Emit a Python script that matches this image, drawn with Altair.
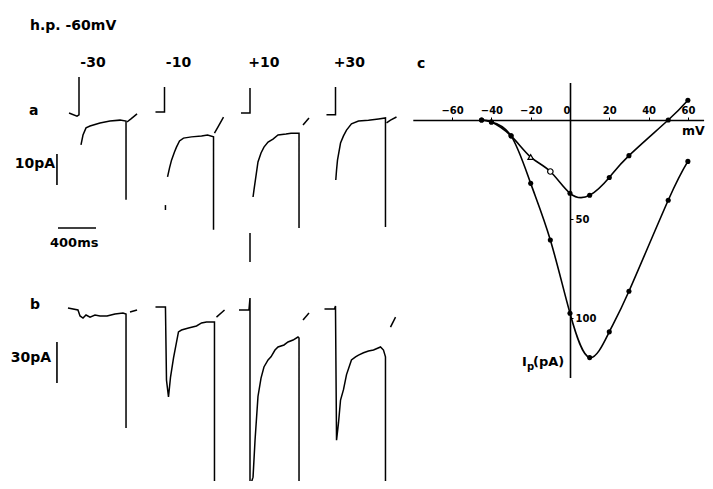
import altair as alt
import pandas as pd

# ---------------- data ----------------
SWEEP_LABELS = ["-30", "-10", "+10", "+30"]
SWEEP_GAP_MS = 900          # spacing between successive sweeps (ms)
LABEL_T_MS = 147            # sweep label time after step onset
LABEL_PA = 16.1             # sweep label level (panel a units)

# panel a traces (time ms from step onset, current pA, segment id)
a_m30_t = [-105, -21, 0, 0, 21, 42, 74, 116, 221, 326, 432, 495, 495, 505, 547, 611]
a_m30_i = [0, -1, -0.6, 11.6, -10.3, -7.1, -4.8, -4.2, -3.2, -2.6, -2.3, -2.6, -28, -2.9, -1.9, -0.3]
a_m30_s = [0, 0, 0, 0, 1, 1, 1, 1, 1, 1, 1, 1, 1, 2, 2, 2]

a_m10_t = [-95, 0, 0, 10, 10, 32, 53, 74, 105, 126, 158, 200, 284, 390, 453, 516, 516, 526, 568, 621]
a_m10_i = [0.3, 0.3, 8.4, -29.7, -31.3, -20.6, -17.7, -15.2, -12.6, -11, -9, -8.1, -7.7, -7.4, -7.1, -7.7, -37.7, -6.5, -4.2, -1.3]
a_m10_s = [0, 0, 0, 1, 1, 2, 2, 2, 2, 2, 2, 2, 2, 2, 2, 2, 2, 3, 3, 3]

a_p10_t = [-95, 0, 0, 32, 42, 84, 116, 147, 190, 242, 295, 379, 432, 516, 516, 558, 621]
a_p10_i = [0, 0, 8.1, -27.1, -24.8, -15.8, -12.9, -11, -9.4, -8.4, -7.1, -6.8, -6.5, -6.5, -37.1, -3.9, -1.6]
a_p10_s = [0, 0, 0, 1, 1, 1, 1, 1, 1, 1, 1, 1, 1, 1, 1, 2, 2]

a_p30_t = [-95, 0, 0, 3, 11, 21, 53, 84, 116, 168, 242, 347, 453, 526, 526, 537, 579, 642]
a_p30_i = [-0.6, -0.6, 8.4, -21.6, -18.4, -15.2, -9.7, -7.4, -5.5, -3.5, -2.6, -2.3, -1.9, -1.6, -36.8, -3.2, -2.3, -1.3]
a_p30_s = [0, 0, 0, 1, 1, 1, 1, 1, 1, 1, 1, 1, 1, 1, 1, 2, 2, 2]

# panel b traces
b_m30_t = [-116, -11, 11, 42, 74, 116, 168, 221, 295, 379, 463, 495, 495, 537, 611]
b_m30_i = [0.7, -0.7, -5.1, -6.6, -4.4, -5.9, -4.4, -5.1, -5.1, -3.7, -2.9, -3.7, -87, -2.2, -0.7]
b_m30_s = [0, 0, 0, 0, 0, 0, 0, 0, 0, 0, 0, 0, 0, 1, 1]

b_m10_t = [-95, 0, 10, 21, 42, 63, 95, 147, 179, 253, 337, 390, 442, 505, 526, 526, 547, 632]
b_m10_i = [1.5, 1.5, 1.5, -52, -64.4, -50, -35.8, -16.8, -15.4, -13.9, -12.4, -10.2, -9.5, -9.5, -9.5, -131, -5.9, -0.7]
b_m10_s = [0, 0, 0, 0, 0, 0, 0, 0, 0, 0, 0, 0, 0, 0, 0, 0, 1, 1]

b_p10_t = [-116, -11, 0, 0, 32, 53, 84, 116, 147, 190, 221, 263, 295, 358, 400, 453, 505, 516, 516, 0, 0, 558, 621]
b_p10_i = [-0.7, -0.7, 8, -130, -123, -96, -64, -50.5, -42.4, -37.3, -35, -30, -27.8, -26.3, -24.1, -22.7, -20.5, -21.2, -130, 34.4, 55.6, -8, -2.9]
b_p10_s = [0, 0, 0, 0, 0, 0, 0, 0, 0, 0, 0, 0, 0, 0, 0, 0, 0, 0, 0, 1, 1, 2, 2]

b_p30_t = [-116, -11, 0, 0, 11, 32, 53, 84, 116, 168, 211, 242, 295, 347, 400, 474, 505, 526, 526, 579, 632]
b_p30_i = [0, 0, 2.2, 0, -96, -83, -66.6, -59, -48, -37.3, -35, -33.7, -32, -30.7, -30, -27.8, -30, -35, -130, -13.2, -5.9]
b_p30_s = [0, 0, 0, 0, 0, 0, 0, 0, 0, 0, 0, 0, 0, 0, 0, 0, 0, 0, 0, 1, 1]

# calibration bars
BAR_T_MS = -232
A_BAR_BASE, A_BAR_PA = -23.2, 10
B_BAR_BASE, B_BAR_PA = -54.1, 30
TIME_BAR_START, TIME_BAR_MS, TIME_BAR_LEVEL = -221, 400, -37.1

# panel c: peak current-voltage relations (inward current positive, pA)
iv_v = [-45, -40, -30, -20, -10, 0, 10, 20, 30, 50, 60]
iv_small = [0, 1, 8, 18.7, 26, 37, 38, 29, 18, 0, -10]
iv_large = [0, 1, 8, 32, 60.6, 97.6, 120, 107, 86.5, 40.5, 20.9]
iv_small_marker = ["f", "f", "f", "triangle-up", "circle", "f", "f", "f", "f", "f", "f"]

X_TICKS = [-60, -40, -20, 0, 20, 40, 60]
Y_TICKS = [50, 100]

FONT = "DejaVu Sans"

# ---------------- tables ----------------
rows = []
def add(panel, k, ts, cs, ss):
    for j, (t, c, s) in enumerate(zip(ts, cs, ss)):
        rows.append({"panel": panel, "sweep": k, "seg": f"{panel}{k}-{s}", "j": j, "t": t, "c": c})

add("a", 0, a_m30_t, a_m30_i, a_m30_s)
add("a", 1, a_m10_t, a_m10_i, a_m10_s)
add("a", 2, a_p10_t, a_p10_i, a_p10_s)
add("a", 3, a_p30_t, a_p30_i, a_p30_s)
add("b", 0, b_m30_t, b_m30_i, b_m30_s)
add("b", 1, b_m10_t, b_m10_i, b_m10_s)
add("b", 2, b_p10_t, b_p10_i, b_p10_s)
add("b", 3, b_p30_t, b_p30_i, b_p30_s)
traces = pd.DataFrame(rows)
tr_a = traces[traces.panel == "a"]
tr_b = traces[traces.panel == "b"]

iv_rows = []
for v, s, l, m in zip(iv_v, iv_small, iv_large, iv_small_marker):
    iv_rows.append({"V": v, "I": s, "curve": "small", "marker": m})
    iv_rows.append({"V": v, "I": l, "curve": "large", "marker": "f"})
iv = pd.DataFrame(iv_rows)

sweeps = pd.DataFrame({"label": SWEEP_LABELS, "sweep": list(range(len(SWEEP_LABELS)))})

# ---------------- scales ----------------
def xa():
    return alt.Scale(domain=[-750, 3600], range=[-0.25, 413], nice=False, zero=False)
def ya():
    return alt.Scale(domain=[-40, 20], range=[229, 43], nice=False, zero=False)
def yb():
    return alt.Scale(domain=[-130, 60], range=[478.7, 219], nice=False, zero=False)
def xs():
    return alt.Scale(domain=[-80, 68], range=[404.8, 695.6], nice=False, zero=False)
def ys():
    return alt.Scale(domain=[-19, 130], range=[74.4, 369.4], nice=False, zero=False)

W, H = 697, 473
xcalc = f"datum.t + datum.sweep * {SWEEP_GAP_MS}"

def trace_layer(df, yscale):
    return alt.Chart(df).transform_calculate(x=xcalc).mark_line(
        color="black", strokeWidth=1.5, interpolate="linear"
    ).encode(
        x=alt.X("x:Q", scale=xa(), axis=None),
        y=alt.Y("c:Q", scale=yscale, axis=None),
        detail="seg:N",
        order="j:Q",
    )

layer_a = trace_layer(tr_a, ya())
layer_b = trace_layer(tr_b, yb())

bars_a = alt.Chart(pd.DataFrame({"t": [BAR_T_MS], "c1": [A_BAR_BASE], "c2": [A_BAR_BASE + A_BAR_PA]})).mark_rule(
    color="black", strokeWidth=1.6
).encode(x=alt.X("t:Q", scale=xa(), axis=None), y=alt.Y("c1:Q", scale=ya(), axis=None), y2="c2:Q")

bars_b = alt.Chart(pd.DataFrame({"t": [BAR_T_MS], "c1": [B_BAR_BASE], "c2": [B_BAR_BASE + B_BAR_PA]})).mark_rule(
    color="black", strokeWidth=1.6
).encode(x=alt.X("t:Q", scale=xa(), axis=None), y=alt.Y("c1:Q", scale=yb(), axis=None), y2="c2:Q")

bar_time = alt.Chart(pd.DataFrame({"t1": [TIME_BAR_START], "t2": [TIME_BAR_START + TIME_BAR_MS], "c": [TIME_BAR_LEVEL]})).mark_rule(
    color="black", strokeWidth=1.6
).encode(x=alt.X("t1:Q", scale=xa(), axis=None), x2="t2:Q", y=alt.Y("c:Q", scale=ya(), axis=None))

sweep_text = alt.Chart(sweeps).transform_calculate(
    x=f"datum.sweep * {SWEEP_GAP_MS} + {LABEL_T_MS}", y=f"{LABEL_PA}"
).mark_text(font=FONT, fontSize=14, fontWeight="bold", color="black", align="center", baseline="middle").encode(
    x=alt.X("x:Q", scale=xa(), axis=None), y=alt.Y("y:Q", scale=ya(), axis=None), text="label:N"
)

iv_lines = alt.Chart(iv).mark_line(color="black", strokeWidth=1.6, interpolate="natural").encode(
    x=alt.X("V:Q", scale=xs(), axis=alt.Axis(
        orient="top", offset=-112, values=X_TICKS, format="d", title=None, grid=False,
        labelFont=FONT, labelFontSize=10, labelFontWeight="bold", labelColor="black",
        labelAlign={"condition": {"test": "datum.value === 0", "value": "right"}, "value": "center"},
        tickSize=3, tickColor="black", tickWidth=1, domainColor="black", domainWidth=1.6, labelPadding=2,
    )),
    y=alt.Y("I:Q", scale=ys(), axis=alt.Axis(
        orient="right", offset=-(W - 562), values=Y_TICKS, format="d", title=None, grid=False,
        labelFont=FONT, labelFontSize=10, labelFontWeight="bold", labelColor="black",
        tickSize=3, tickColor="black", tickWidth=1, domainColor="black", domainWidth=1.6, labelPadding=2,
    )),
    detail="curve:N",
)

iv_filled = alt.Chart(iv).transform_filter("datum.marker == 'f'").mark_point(
    filled=True, shape="circle", size=26, color="black", opacity=1
).encode(x=alt.X("V:Q", scale=xs(), axis=None), y=alt.Y("I:Q", scale=ys(), axis=None))

iv_open = alt.Chart(iv).transform_filter("datum.marker != 'f'").mark_point(
    filled=False, size=30, stroke="black", fill="white", fillOpacity=1, strokeWidth=1.2, opacity=1
).encode(
    x=alt.X("V:Q", scale=xs(), axis=None),
    y=alt.Y("I:Q", scale=ys(), axis=None),
    shape=alt.Shape("marker:N", scale=alt.Scale(domain=["triangle-up", "circle"], range=["triangle-up", "circle"]), legend=None),
)

def label(txt, x, y, size=14, align="left"):
    return alt.Chart(pd.DataFrame({"t": [txt]})).mark_text(
        font=FONT, fontSize=size, fontWeight="bold", color="black", align=align, baseline="middle"
    ).encode(text="t:N", x=alt.value(x), y=alt.value(y))

texts = [
    label("h.p. -60mV", 22, 18, 14),
    label("a", 21, 103),
    label("b", 22, 297),
    label("10pA", 47, 156, 14, "right"),
    label("30pA", 43, 350, 14, "right"),
    label("400ms", 42, 235, 13),
    label("c", 409, 56),
    label("mV", 674, 123, 12.5),
    label("I", 514, 354, 13),
    label("p", 519, 359, 10),
    label("(pA)", 525, 354, 13),
]

chart = alt.layer(
    layer_a, layer_b, bars_a, bars_b, bar_time, sweep_text,
    iv_lines, iv_filled, iv_open, *texts
).resolve_scale(x="independent", y="independent").properties(
    width=W, height=H, padding=0, autosize=alt.AutoSizeParams(type="none"), background="white"
).configure_view(stroke=None)

chart.save("out.html", embed_options={"renderer": "svg", "actions": False})
